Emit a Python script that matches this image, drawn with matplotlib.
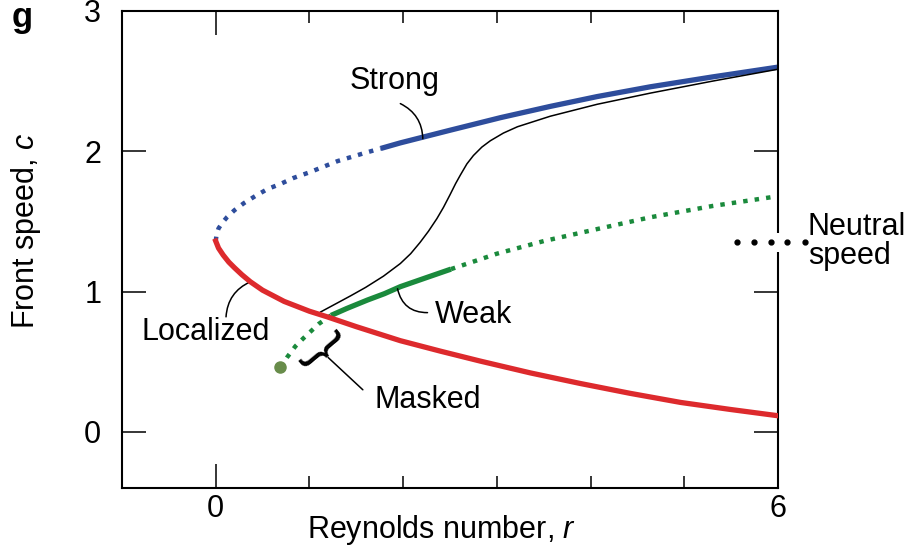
import matplotlib.pyplot as plt
from matplotlib.patches import Rectangle

plt.rcParams['font.family'] = ['Liberation Sans', 'DejaVu Sans']
plt.rcParams['mathtext.fontset'] = 'custom'
plt.rcParams['mathtext.rm'] = 'Liberation Sans'
plt.rcParams['mathtext.it'] = 'Liberation Sans:italic'

# strong front branch (dotted part, then solid part)
strong_dot_r = [0.0, 0.01, 0.03, 0.07, 0.12, 0.2, 0.3, 0.42, 0.55, 0.7, 0.83,
                1.0, 1.15, 1.3, 1.45, 1.6, 1.76]
strong_dot_c = [1.36, 1.41, 1.45, 1.49, 1.53, 1.58, 1.63, 1.68, 1.73, 1.77,
                1.81, 1.85, 1.89, 1.93, 1.96, 1.99, 2.02]
strong_r = [1.76, 1.97, 2.5, 3.04, 3.57, 4.07, 4.64, 5.3, 6.0]
strong_c = [2.02, 2.06, 2.15, 2.24, 2.32, 2.39, 2.46, 2.53, 2.60]

# localized branch
local_r = [0.0, 0.03, 0.08, 0.14, 0.2, 0.28, 0.37, 0.5, 0.73, 1.0, 1.19,
           1.5, 1.97, 2.4, 2.82, 3.36, 3.89, 4.42, 4.96, 5.49, 6.0]
local_c = [1.36, 1.31, 1.26, 1.21, 1.17, 1.12, 1.07, 1.01, 0.93, 0.86, 0.82,
           0.75, 0.65, 0.575, 0.505, 0.42, 0.345, 0.275, 0.21, 0.16, 0.115]

# weak front branch: masked (dotted), weak (solid), then dotted
masked_r = [0.69, 0.76, 0.85, 0.94, 1.02, 1.10, 1.23]
masked_c = [0.46, 0.53, 0.61, 0.67, 0.72, 0.77, 0.83]
weak_r = [1.23, 1.4, 1.62, 1.8, 1.97, 2.25, 2.51]
weak_c = [0.83, 0.88, 0.94, 0.985, 1.035, 1.10, 1.16]
weak_dot_r = [2.51, 3.0, 3.5, 4.1, 4.64, 5.3, 6.0]
weak_dot_c = [1.16, 1.27, 1.36, 1.45, 1.53, 1.61, 1.68]

# measured speed (thin black)
meas_r = [1.12, 1.44, 1.6, 1.79, 1.97, 2.08, 2.18, 2.27, 2.36, 2.43, 2.50,
          2.56, 2.61, 2.68, 2.75, 2.84, 2.93, 3.07, 3.22, 3.57, 4.07, 4.64,
          5.3, 6.0]
meas_c = [0.855, 0.97, 1.03, 1.11, 1.20, 1.27, 1.35, 1.43, 1.52, 1.60, 1.69,
          1.77, 1.83, 1.91, 1.97, 2.03, 2.075, 2.13, 2.175, 2.25, 2.335,
          2.415, 2.50, 2.585]

neutral_r = [5.56, 5.74, 5.92, 6.10, 6.29]
neutral_c = [1.35, 1.35, 1.35, 1.35, 1.35]

red = '#dd2a2d'
blue = '#2e4d9c'
green = '#1a8a3c'
dots = (1.0, 1.6)

fig = plt.figure(figsize=(9.12, 5.49), dpi=100)
ax = fig.add_axes([122 / 912, 1 - 488 / 549, 656 / 912, 477 / 549])

ax.plot(strong_dot_r, strong_dot_c, color=blue, lw=3.2, dashes=dots,
        dash_capstyle='butt')
ax.plot(strong_r, strong_c, color=blue, lw=3.8, solid_capstyle='butt')
ax.plot(meas_r, meas_c, color='black', lw=1.1, zorder=3)
ax.plot(masked_r, masked_c, color=green, lw=3.2, dashes=dots,
        dash_capstyle='butt')
ax.plot(weak_r, weak_c, color=green, lw=3.8, solid_capstyle='butt')
ax.plot(weak_dot_r, weak_dot_c, color=green, lw=3.2, dashes=dots,
        dash_capstyle='butt')
ax.plot(local_r, local_c, color=red, lw=3.8, zorder=4)
ax.plot(masked_r[:1], masked_c[:1], 'o', color='#688c4a', ms=8, zorder=5)

# neutral speed key, drawn over the right spine
ax.add_patch(Rectangle((5.5, 1.28), 0.85, 0.14, facecolor='white',
                       edgecolor='none', clip_on=False, zorder=3))
ax.plot(neutral_r, neutral_c, 'o', color='black', ms=3.5, clip_on=False,
        zorder=4)
ax.text(6.32, 1.36, 'Neutral\nspeed', fontsize=22, ha='left', va='center',
        linespacing=0.95)

# labels with leader lines
lead = dict(arrowstyle='-', color='black', lw=1.1, shrinkA=0, shrinkB=0)
ax.text(1.91, 2.50, 'Strong', fontsize=22, ha='center', va='center')
ax.annotate('', xy=(2.21, 2.09), xytext=(1.97, 2.34),
            arrowprops=dict(lead, connectionstyle='arc3,rad=-0.3'))
ax.text(-0.11, 0.71, 'Localized', fontsize=22, ha='center', va='center')
ax.annotate('', xy=(0.37, 1.07), xytext=(0.11, 0.82),
            arrowprops=dict(lead, connectionstyle='arc3,rad=-0.3'))
ax.text(2.75, 0.83, 'Weak', fontsize=22, ha='center', va='center')
ax.annotate('', xy=(1.94, 1.02), xytext=(2.26, 0.85),
            arrowprops=dict(lead, connectionstyle='arc3,rad=-0.4'))
ax.text(2.26, 0.23, 'Masked', fontsize=22, ha='center', va='center')
ax.annotate('', xy=(1.20, 0.53), xytext=(1.57, 0.30), arrowprops=lead)
ax.text(1.12, 0.58, '}', fontsize=38, rotation=-50, ha='center',
        va='center', rotation_mode='anchor')

ax.set_xlim(-1, 6)
ax.set_ylim(-0.4, 3)
ax.set_xticks([0, 6])
ax.set_xticks([1, 2, 3, 4, 5], minor=True)
ax.set_yticks([0, 1, 2, 3])
ax.tick_params(which='both', direction='in', top=True, right=True, width=1.1,
               labelsize=22)
ax.tick_params(which='major', length=17)
ax.tick_params(which='minor', length=8.5)
ax.tick_params(axis='x', pad=4)
ax.tick_params(axis='y', pad=15)
for s in ax.spines.values():
    s.set_linewidth(1.5)

fig.text(442 / 912, 1 - 530 / 549, 'Reynolds number, $\\mathit{r}$',
         fontsize=22, ha='center', va='center')
fig.text(26 / 912, 1 - 231 / 549, 'Front speed, $\\mathit{c}$', fontsize=22,
         ha='center', va='center', rotation=90)
fig.text(22 / 912, 1 - 18 / 549, 'g', fontsize=25, fontweight='bold',
         ha='center', va='center')

fig.savefig('out.png', dpi=100)
